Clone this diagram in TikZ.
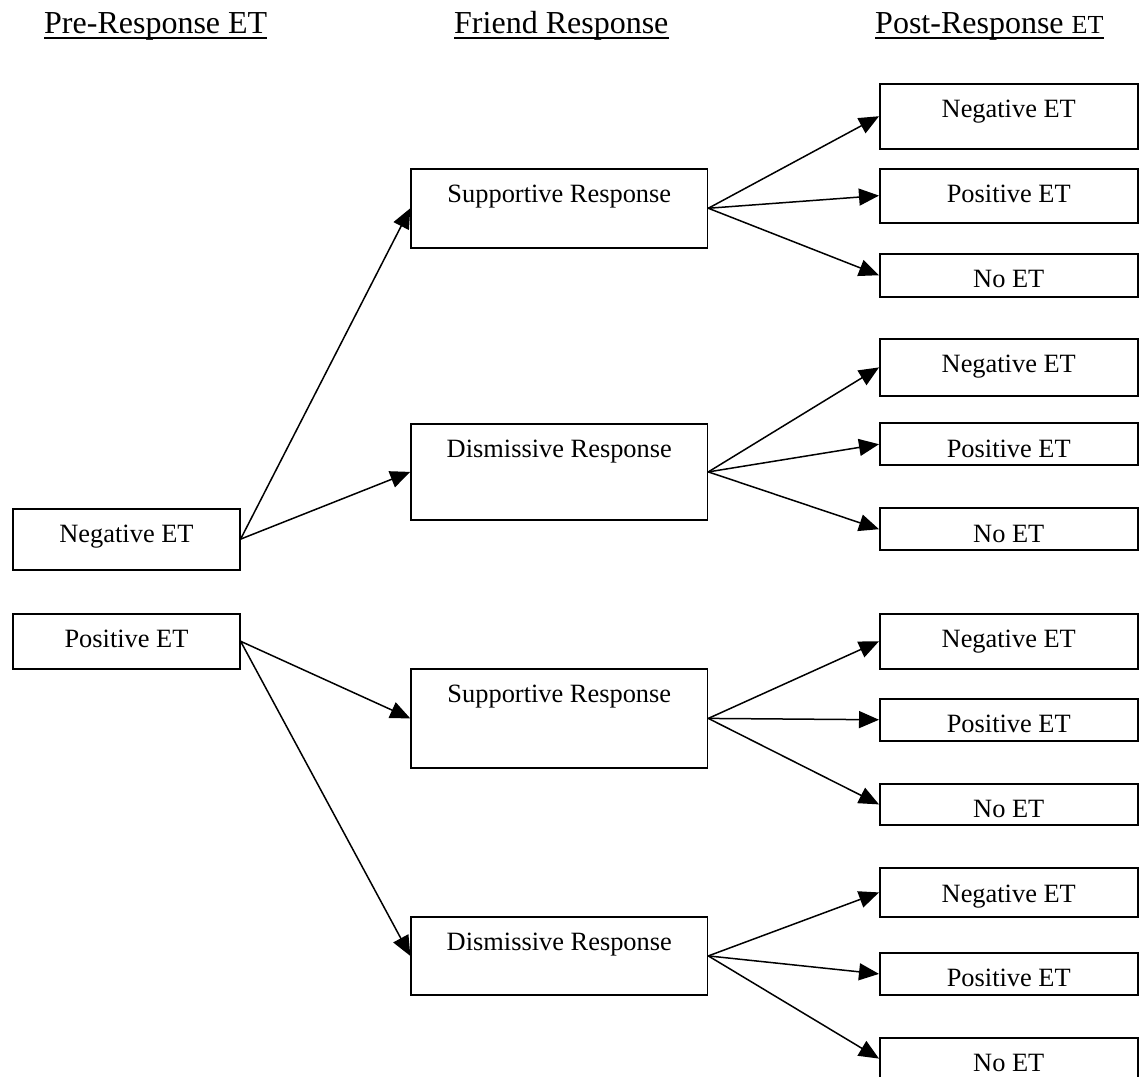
\documentclass[tikz,border=0pt]{standalone}
\usepackage{fontspec}
\setmainfont{Liberation Serif}
\usetikzlibrary{arrows.meta}
\newcommand\boxfont{\fontsize{26.4}{30}\selectfont}
\newcommand\headfont{\fontsize{32}{36}\selectfont}
\newcommand\smallet{\fontsize{26}{30}\selectfont}
\begin{document}
\begin{tikzpicture}[x=1pt,y=-1pt,
  box/.style={draw, line width=1.8pt, inner sep=0pt, anchor=north west, text height=34pt, font=\boxfont},
  lbox/.style={box, minimum width=226.4pt},
  mbox/.style={box, minimum width=296.2pt},
  rbox/.style={box, minimum width=257.7pt},
  head/.style={inner sep=0pt, anchor=base west, font=\headfont},
  uline/.style={line width=2pt},
  arr/.style={line width=1.5pt, -{Triangle[length=20pt,width=17pt]}}
]
\clip (0,0) rectangle (1139,1076);
\fill[white] (0,0) rectangle (1139,1076);

% headers
\node[head] (H1) at (44,33.3) {Pre-Response ET};
\node[head] (H2) at (454,33.3) {Friend Response};
\node[head] (H3) at (875,33.3) {Post-Response {\smallet ET}};
\foreach \h in {H1,H2,H3}
  \draw[uline] ([yshift=-5pt]\h.base west) -- ([yshift=-5pt]\h.base east);

% left column
\node[lbox, text depth=27pt] (L1) at (12.4,507.7) {Negative ET};
\node[lbox, text depth=21.3pt] (L2) at (12.4,612.7) {Positive ET};

% middle column
\node[mbox, text depth=45.3pt] (M1) at (410.3,167.7) {Supportive Response};
\node[mbox, text depth=62.6pt] (M2) at (410.3,422.7) {Dismissive Response};
\node[mbox, text depth=65pt] (M3) at (410.3,668) {Supportive Response};
\node[mbox, text depth=44.6pt] (M4) at (410.3,915.7) {Dismissive Response};

% right column
\node[rbox, text depth=30.7pt] (R1a) at (879,83) {Negative ET};
\node[rbox, text depth=20pt] (R1b) at (879,167.7) {Positive ET};
\node[rbox, text depth=9.3pt] (R1c) at (879,252.7) {No ET};

\node[rbox, text depth=23.6pt] (R2a) at (879,337.7) {Negative ET};
\node[rbox, text depth=8pt] (R2b) at (879,422.3) {Positive ET};
\node[rbox, text depth=8pt] (R2c) at (879,507.3) {No ET};

\node[rbox, text depth=21.3pt] (R3a) at (879,612.7) {Negative ET};
\node[rbox, text depth=8.3pt] (R3b) at (879,697.7) {Positive ET};
\node[rbox, text depth=7.6pt] (R3c) at (879,782.7) {No ET};

\node[rbox, text depth=14.4pt] (R4a) at (879,867.3) {Negative ET};
\node[rbox, text depth=8.6pt] (R4b) at (879,951.7) {Positive ET};
\node[rbox, text depth=8pt] (R4c) at (879,1036.7) {No ET};

% connectors
\draw[arr] (L1.east) -- (M1.west);
\draw[arr] (L1.east) -- (M2.west);
\draw[arr] (L2.east) -- (M3.west);
\draw[arr] (L2.east) -- (M4.west);
\foreach \m/\g in {M1/R1,M2/R2,M3/R3,M4/R4}{
  \draw[arr] (\m.east) -- (\g a.west);
  \draw[arr] (\m.east) -- (\g b.west);
  \draw[arr] (\m.east) -- (\g c.west);
}
\end{tikzpicture}
\end{document}
